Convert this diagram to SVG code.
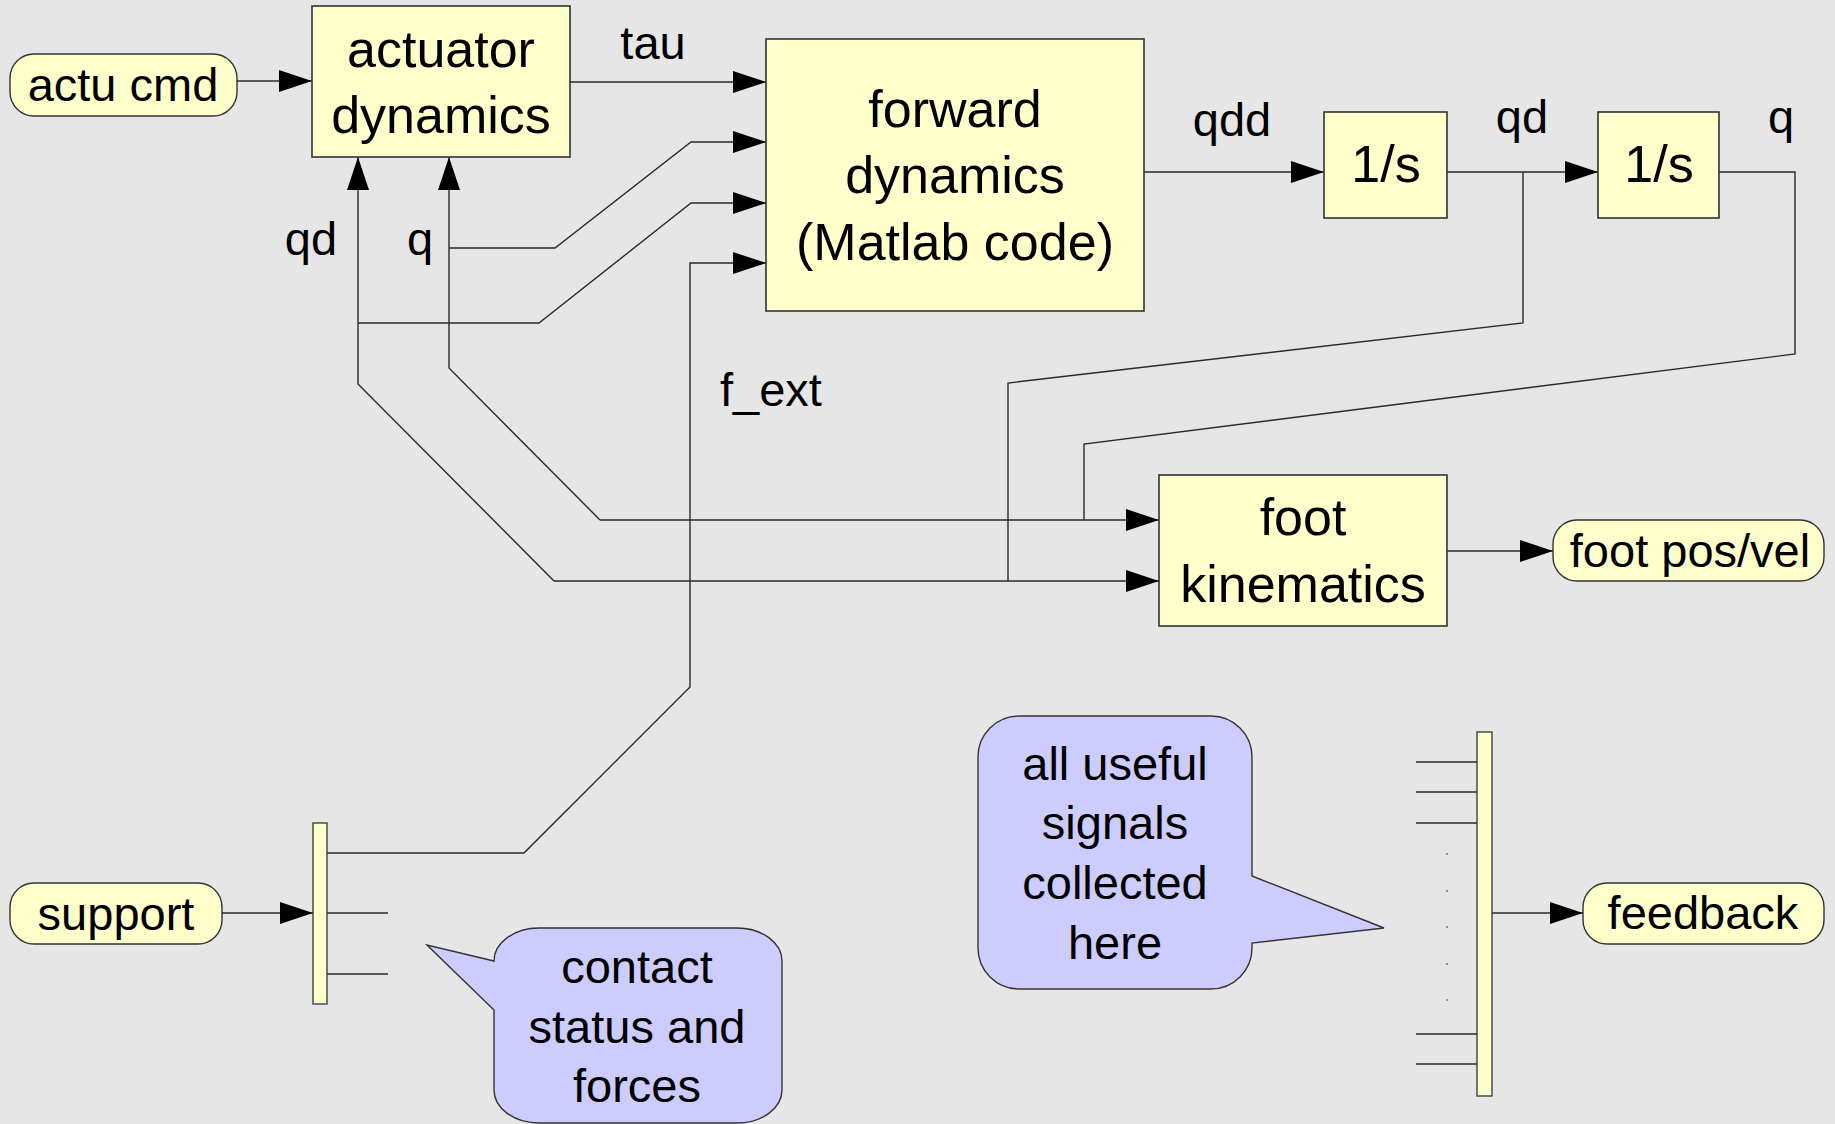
<svg xmlns="http://www.w3.org/2000/svg" width="1835" height="1124" viewBox="0 0 1835 1124">
<style>
  .bg { fill: #e6e6e6; }
  .box { fill: #ffffcc; stroke: #333333; stroke-width: 1.6; }
  .pill { fill: #ffffcc; stroke: #333333; stroke-width: 1.4; }
  .call { fill: #ccccff; stroke: #333333; stroke-width: 1.4; }
  .wire { fill: none; stroke: #2a2a2a; stroke-width: 1.4; }
  .arr { marker-end: url(#ah); }
  .t { font-family: "Liberation Sans", Arial, Helvetica, sans-serif; fill: #000000; }
  .big { font-size: 52px; text-anchor: middle; }
  .lbl { font-size: 47px; }
  .mid { text-anchor: middle; }
  .dot { fill: #777777; }
</style>
<defs>
  <marker id="ah" markerUnits="userSpaceOnUse" markerWidth="34" markerHeight="23" refX="33" refY="11" orient="auto">
    <path d="M0,0 L33,11 L0,22 Z" fill="#000000"/>
  </marker>
</defs>
<rect class="bg" x="0" y="0" width="1835" height="1124"/>

<g id="connectors">
  <!-- actu cmd to actuator -->
  <path class="wire arr" d="M237,81 H312"/>
  <!-- tau -->
  <path class="wire arr" d="M570,82 H766"/>
  <!-- q branch to forward dynamics -->
  <path class="wire arr" d="M449,248 H555 L691,142 H766"/>
  <!-- qd branch to forward dynamics -->
  <path class="wire arr" d="M358,323 H539 L691,203 H766"/>
  <!-- f_ext from support mux -->
  <path class="wire arr" d="M327,853 H524 L690,687 V263 H766"/>
  <!-- qdd -->
  <path class="wire arr" d="M1144,172 H1324"/>
  <!-- qd between integrators -->
  <path class="wire arr" d="M1447,172 H1598"/>
  <!-- q output -->
  <path class="wire" d="M1719,172 H1795 V354 L1084,444 V520"/>
  <!-- qd branch down -->
  <path class="wire" d="M1523,172 V323 L1008,383 V581"/>
  <!-- q feedback to actuator -->
  <path class="wire arr" d="M600,520 L449,368 V157"/>
  <!-- qd feedback to actuator -->
  <path class="wire arr" d="M554,581 L358,384 V157"/>
  <!-- q to foot kinematics -->
  <path class="wire arr" d="M600,520 H1159"/>
  <!-- qd to foot kinematics -->
  <path class="wire arr" d="M554,581 H1159"/>
  <!-- foot kinematics output -->
  <path class="wire arr" d="M1447,551 H1553"/>
  <!-- support to mux -->
  <path class="wire arr" d="M222,913 H313"/>
  <!-- support mux outputs -->
  <path class="wire" d="M327,913 H388 M327,974 H388"/>
  <!-- feedback mux inputs -->
  <path class="wire" d="M1416,762 H1477 M1416,792 H1477 M1416,823 H1477 M1416,1034 H1477 M1416,1064 H1477"/>
  <!-- mux to feedback -->
  <path class="wire arr" d="M1492,913 H1583"/>
  <!-- signal labels -->
  <text class="t lbl mid" x="653" y="59">tau</text>
  <text class="t lbl mid" x="311" y="255">qd</text>
  <text class="t lbl mid" x="420" y="255">q</text>
  <text class="t lbl" x="720" y="406">f_ext</text>
  <text class="t lbl mid" x="1232" y="136">qdd</text>
  <text class="t lbl mid" x="1522" y="133">qd</text>
  <text class="t lbl mid" x="1781" y="133">q</text>
</g>

<g id="actu-cmd">
  <rect class="pill" x="10" y="54" width="227" height="62" rx="24" ry="24"/>
  <text class="t lbl mid" x="123" y="101">actu cmd</text>
</g>

<g id="actuator-dynamics">
  <rect class="box" x="312" y="6" width="258" height="151"/>
  <text class="t big" x="441" y="67">actuator</text>
  <text class="t big" x="441" y="133">dynamics</text>
</g>

<g id="forward-dynamics">
  <rect class="box" x="766" y="39" width="378" height="272"/>
  <text class="t big" x="955" y="127">forward</text>
  <text class="t big" x="955" y="193">dynamics</text>
  <text class="t big" x="955" y="260">(Matlab code)</text>
</g>

<g id="integrator-1">
  <rect class="box" x="1324" y="112" width="123" height="106"/>
  <text class="t big" x="1386" y="182">1/s</text>
</g>

<g id="integrator-2">
  <rect class="box" x="1598" y="112" width="121" height="106"/>
  <text class="t big" x="1659" y="182">1/s</text>
</g>

<g id="foot-kinematics">
  <rect class="box" x="1159" y="475" width="288" height="151"/>
  <text class="t big" x="1303" y="535">foot</text>
  <text class="t big" x="1303" y="602">kinematics</text>
</g>

<g id="foot-pos-vel">
  <rect class="pill" x="1553" y="520" width="271" height="61" rx="24" ry="24"/>
  <text class="t lbl mid" x="1690" y="567">foot pos/vel</text>
</g>

<g id="support">
  <rect class="pill" x="10" y="883" width="212" height="61" rx="24" ry="24"/>
  <text class="t lbl mid" x="116" y="930">support</text>
</g>

<g id="support-mux">
  <rect class="box" x="313" y="823" width="14" height="181" style="stroke-width:1.3"/>
</g>

<g id="contact-note">
  <path class="call" d="M539,928 H737 A45,33 0 0 1 782,961 V1090 A45,33 0 0 1 737,1123 H539 A45,33 0 0 1 494,1090 V1010 L427,945 L494,961 A45,33 0 0 1 539,928 Z"/>
  <text class="t lbl mid" x="637" y="983">contact</text>
  <text class="t lbl mid" x="637" y="1043">status and</text>
  <text class="t lbl mid" x="637" y="1102">forces</text>
</g>

<g id="signals-note">
  <path class="call" d="M1019,716 H1211 A41,41 0 0 1 1252,757 V876 L1384,928 L1252,943 V948 A41,41 0 0 1 1211,989 H1019 A41,41 0 0 1 978,948 V757 A41,41 0 0 1 1019,716 Z"/>
  <text class="t lbl mid" x="1115" y="780">all useful</text>
  <text class="t lbl mid" x="1115" y="839">signals</text>
  <text class="t lbl mid" x="1115" y="899">collected</text>
  <text class="t lbl mid" x="1115" y="959">here</text>
</g>

<g id="feedback-mux">
  <rect class="box" x="1477" y="732" width="15" height="364" style="stroke-width:1.3"/>
  <circle class="dot" cx="1447" cy="854" r="1"/>
  <circle class="dot" cx="1447" cy="891" r="1"/>
  <circle class="dot" cx="1447" cy="927" r="1"/>
  <circle class="dot" cx="1447" cy="964" r="1"/>
  <circle class="dot" cx="1447" cy="1000" r="1"/>
</g>

<g id="feedback">
  <rect class="pill" x="1583" y="883" width="241" height="61" rx="24" ry="24"/>
  <text class="t lbl mid" x="1703" y="929">feedback</text>
</g>
</svg>
